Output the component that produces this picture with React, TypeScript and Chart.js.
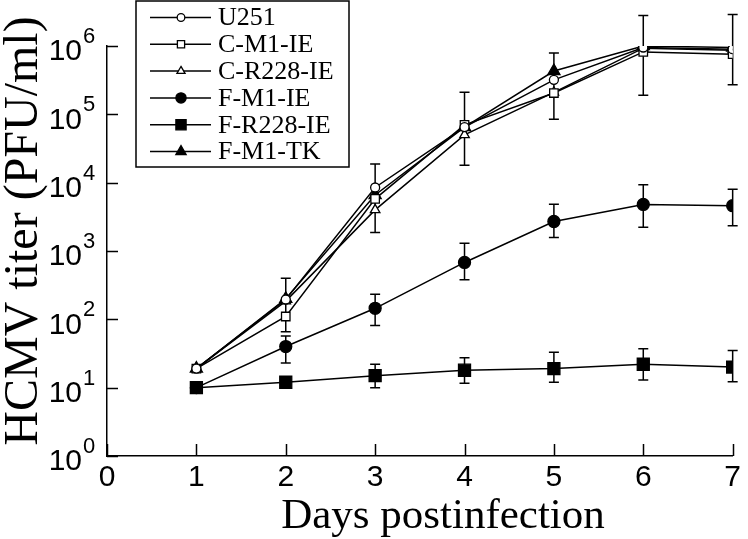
import React, { useEffect, useRef } from 'react';
import { Chart, registerables } from 'chart.js';
import { drawPoint } from 'chart.js/helpers';

Chart.register(...registerables);

// ---- data ----
const days = [1, 2, 3, 4, 5, 6, 7];
const seriesLabels = ['U251', 'C-M1-IE', 'C-R228-IE', 'F-M1-IE', 'F-R228-IE', 'F-M1-TK'];

const u251 = [19, 195, 8500, 65000, 320000, 950000, 900000];
const cM1IE = [19, 110, 5800, 70000, 205000, 820000, 760000];
const cR228IE = [19, 185, 4000, 50000, 210000, 930000, 870000];
const fM1IE = [10, 40, 145, 680, 2700, 4800, 4600];
const fR228IE = [10, 12, 15, 18, 19, 22, 20];
const fM1TK = [19, 200, 6600, 65000, 430000, 1000000, 950000];

const u251ErrHigh = [null, 400, 18800, 210000, 790000, 2800000, 2900000];
const u251ErrLow = [null, 66, 1860, 18000, 85000, 190000, 270000];
const fM1IEErrHigh = [null, 57, 233, 1300, 4840, 9300, 8000];
const fM1IEErrLow = [null, 23, 81, 378, 1570, 2230, 2350];
const fR228IEErrHigh = [null, null, 22, 27.5, 33, 37, 35];
const fR228IEErrLow = [null, null, 10, 11.6, 12, 13, 12.2];

const xTickValues = [0, 1, 2, 3, 4, 5, 6, 7];
const yTickValues = [1, 10, 100, 1000, 10000, 100000, 1000000];

const xTitle = 'Days postinfection';
const yTitle = 'HCMV titer (PFU/ml)';

const toPoints = (vals: number[]) => vals.map((v, i) => ({ x: days[i], y: v }));

const decorPlugin = {
  id: 'decor',
  beforeDatasetsDraw(chart: any) {
    const ctx = chart.ctx;
    const xs = chart.scales.x;
    const ys = chart.scales.y;
    ctx.save();
    ctx.strokeStyle = '#000';
    ctx.lineWidth = 1.5;
    chart.data.datasets.forEach((ds: any) => {
      if (!ds.errHigh) return;
      ds.errHigh.forEach((hi: number | null, i: number) => {
        const lo = ds.errLow[i];
        if (hi == null || lo == null) return;
        const x = xs.getPixelForValue(days[i]);
        const yh = ys.getPixelForValue(hi);
        const yl = ys.getPixelForValue(lo);
        ctx.beginPath();
        ctx.moveTo(x, yh);
        ctx.lineTo(x, yl);
        ctx.moveTo(x - 5, yh);
        ctx.lineTo(x + 5, yh);
        ctx.moveTo(x - 5, yl);
        ctx.lineTo(x + 5, yl);
        ctx.stroke();
      });
    });
    ctx.restore();
  },
  afterDraw(chart: any) {
    const ctx = chart.ctx;
    const xs = chart.scales.x;
    const ys = chart.scales.y;
    const area = chart.chartArea;
    ctx.save();
    ctx.strokeStyle = '#000';
    ctx.fillStyle = '#000';
    ctx.lineWidth = 1.5;
    // inward ticks
    ctx.beginPath();
    ys.ticks.forEach((t: any) => {
      const y = Math.round(ys.getPixelForValue(t.value)) + 0.5;
      ctx.moveTo(area.left, y);
      ctx.lineTo(area.left + 11, y);
    });
    xs.ticks.forEach((t: any) => {
      const x = Math.round(xs.getPixelForValue(t.value)) + 0.5;
      ctx.moveTo(x, area.bottom);
      ctx.lineTo(x, area.bottom - 12);
    });
    ctx.stroke();
    // y tick labels 10^n
    ys.ticks.forEach((t: any) => {
      const y = ys.getPixelForValue(t.value);
      const e = Math.round(Math.log10(t.value));
      const xr = area.left - 25;
      ctx.textBaseline = 'middle';
      ctx.font = '30px "Liberation Sans"';
      ctx.textAlign = 'right';
      ctx.fillText('10', xr, y + 6);
      ctx.font = '22px "Liberation Sans"';
      ctx.textAlign = 'left';
      ctx.fillText(String(e), xr + 1, y - 9);
    });
    // axis titles
    ctx.fillStyle = '#000';
    ctx.textBaseline = 'alphabetic';
    ctx.textAlign = 'center';
    ctx.font = '43px "Liberation Serif"';
    ctx.fillText(xTitle, 443, 528);
    ctx.save();
    ctx.translate(37, 231);
    ctx.rotate(-Math.PI / 2);
    ctx.font = '48px "Liberation Serif"';
    ctx.fillText(yTitle, 0, 0);
    ctx.restore();
    // legend
    const bx = 136, by = 1, bw = 213, bh = 166;
    ctx.lineWidth = 1.5;
    ctx.strokeStyle = '#000';
    ctx.strokeRect(bx, by, bw, bh);
    chart.data.datasets.forEach((ds: any, i: number) => {
      const y = 17.5 + i * 26.8;
      ctx.strokeStyle = '#000';
      ctx.lineWidth = 1.5;
      ctx.beginPath();
      ctx.moveTo(150, y);
      ctx.lineTo(211, y);
      ctx.stroke();
      ctx.fillStyle = ds.pointBackgroundColor;
      ctx.strokeStyle = '#000';
      ctx.lineWidth = ds.pointBorderWidth;
      drawPoint(ctx, { pointStyle: ds.pointStyle, rotation: 0, radius: ds.pointRadius * 0.85, borderWidth: ds.pointBorderWidth }, 181, y);
      ctx.fillStyle = '#000';
      ctx.font = '26px "Liberation Serif"';
      ctx.textAlign = 'left';
      ctx.textBaseline = 'middle';
      ctx.fillText(ds.label, 218, y + 1);
    });
    ctx.restore();
  },
};

function makeDataset(label: string, vals: number[], style: string, radius: number, filled: boolean, errHigh?: any[], errLow?: any[]) {
  return {
    label,
    data: toPoints(vals),
    borderColor: '#000',
    borderWidth: 1.5,
    pointStyle: style,
    pointRadius: radius,
    pointBackgroundColor: filled ? '#000' : '#fff',
    pointBorderColor: '#000',
    pointBorderWidth: 1.3,
    fill: false,
    tension: 0,
    errHigh,
    errLow,
  } as any;
}

export default function App() {
  const ref = useRef<HTMLCanvasElement | null>(null);
  useEffect(() => {
    if (!ref.current) return;
    const chart = new Chart(ref.current, {
      type: 'line',
      data: {
        datasets: [
          makeDataset(seriesLabels[0], u251, 'circle', 4.5, false, u251ErrHigh, u251ErrLow),
          makeDataset(seriesLabels[1], cM1IE, 'rect', 6, false),
          makeDataset(seriesLabels[2], cR228IE, 'triangle', 5.5, false),
          makeDataset(seriesLabels[3], fM1IE, 'circle', 6, true, fM1IEErrHigh, fM1IEErrLow),
          makeDataset(seriesLabels[4], fR228IE, 'rect', 8.5, true, fR228IEErrHigh, fR228IEErrLow),
          makeDataset(seriesLabels[5], fM1TK, 'triangle', 7, true),
        ],
      },
      options: {
        responsive: false,
        animation: false,
        layout: { padding: { top: 46, right: 9, left: 0, bottom: 0 } },
        plugins: { legend: { display: false }, tooltip: { enabled: false } },
        scales: {
          x: {
            type: 'linear',
            min: 0,
            max: 7,
            afterBuildTicks: (s: any) => { s.ticks = xTickValues.map((v) => ({ value: v })); },
            afterFit: (s: any) => { s.height = 83; },
            ticks: {
              autoSkip: false,
              maxRotation: 0,
              color: '#000',
              padding: 7,
              font: { family: 'Liberation Sans', size: 30, lineHeight: 1 },
              callback: (v: any) => String(v),
            },
            grid: { display: false, drawTicks: false },
            border: { display: true, color: '#000', width: 1.5 },
            title: { display: false, text: xTitle },
          },
          y: {
            type: 'logarithmic',
            min: 1,
            max: 1000000,
            afterBuildTicks: (s: any) => { s.ticks = yTickValues.map((v) => ({ value: v })); },
            afterFit: (s: any) => { s.width = 107; },
            ticks: { display: false },
            grid: { display: false, drawTicks: false },
            border: { display: true, color: '#000', width: 1.5 },
            title: { display: false, text: yTitle },
          },
        },
      },
      plugins: [decorPlugin],
    } as any);
    return () => chart.destroy();
  }, []);
  return (
    <div style={{ position: 'fixed', left: 0, top: 0, width: 748, height: 539, background: '#fff' }}>
      <canvas ref={ref} width={748} height={539} style={{ display: 'block' }} />
    </div>
  );
}
